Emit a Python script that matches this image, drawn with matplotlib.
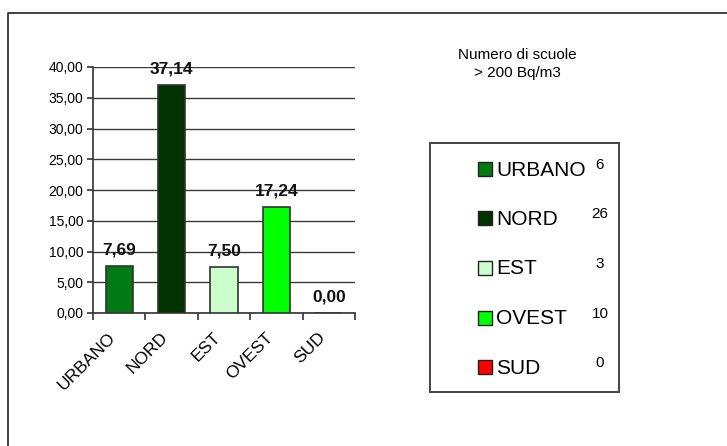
import numpy as np
import matplotlib
matplotlib.use('Agg')
import matplotlib.pyplot as plt
from matplotlib.patches import Rectangle
from matplotlib.lines import Line2D
from matplotlib.ticker import FuncFormatter

plt.rcParams['font.family'] = ['Liberation Sans', 'DejaVu Sans']

zones = ['URBANO', 'NORD', 'EST', 'OVEST', 'SUD']
percent_over = [7.69, 37.14, 7.50, 17.24, 0.00]
schools_over_200 = [6, 26, 3, 10, 0]
colors = ['#007A12', '#003300', '#CCFFCC', '#00FF00', '#FF0000']

W, H = 727, 446
fig = plt.figure(figsize=(W / 100, H / 100), dpi=100)

def fx(px):
    return px / W

def fy(py):
    return 1 - py / H

# outer frame (left and top edges)
fig.add_artist(Line2D([fx(7.5), fx(7.5), fx(727)], [fy(446), fy(12.5), fy(12.5)],
                      color='#333333', lw=1.3))

ax = fig.add_axes([fx(93), fy(313), fx(355) - fx(93), fy(67) - fy(313)])
x = np.arange(len(zones))
ax.bar(x, percent_over, width=0.52, color=colors, edgecolor='#333333', linewidth=1.2, zorder=3)

for xi, v in zip(x, percent_over):
    ax.annotate(f'{v:.2f}'.replace('.', ','), (xi, v), xytext=(0, 6), textcoords='offset points',
                ha='center', va='bottom', fontsize=12.5, fontweight='bold', color='#111111')

ax.set_xlim(-0.5, len(zones) - 0.5)
ax.set_ylim(0, 40)
ax.set_yticks(np.arange(0, 41, 5))
ax.yaxis.set_major_formatter(FuncFormatter(lambda v, p: f'{v:.2f}'.replace('.', ',')))
ax.yaxis.grid(True, color='#3a3a3a', lw=1.0, zorder=0)
for s in ['top', 'right']:
    ax.spines[s].set_visible(False)
for s in ['left', 'bottom']:
    ax.spines[s].set_color('#333333')
    ax.spines[s].set_linewidth(1.2)

# ticks sit between categories, names are written diagonally below each bar
ax.set_xticks(np.arange(-0.5, len(zones), 1.0))
ax.set_xticklabels([])
ax.tick_params(axis='x', length=5, width=1.2, color='#333333')
ax.tick_params(axis='y', length=4, width=1.2, color='#333333', labelsize=10, pad=3)
for xi, z in zip(x, zones):
    ax.annotate(z, (xi, 0), xycoords=('data', 'axes fraction'), xytext=(-8, -12),
                textcoords='offset points', rotation=45, rotation_mode='anchor',
                ha='right', va='top', fontsize=12.5, annotation_clip=False)

# title on the right
fig.text(fx(517), fy(55), 'Numero di scuole', ha='center', va='center', fontsize=11)
fig.text(fx(517), fy(73), '> 200 Bq/m3', ha='center', va='center', fontsize=11)

# legend box with school counts
fig.add_artist(Rectangle((fx(430), fy(392)), fx(619) - fx(430), fy(142.5) - fy(392),
                         fill=False, edgecolor='#444444', lw=1.4))
for i, (z, c, n) in enumerate(zip(zones, colors, schools_over_200)):
    cy = 169 + i * 49.5
    fig.add_artist(Rectangle((fx(478), fy(cy + 7)), fx(14), fy(0) - fy(14),
                             facecolor=c, edgecolor='#222222', lw=1.0))
    fig.text(fx(496), fy(cy + 1), z, ha='left', va='center', fontsize=15)
    fig.text(fx(600), fy(cy - 4), str(n), ha='center', va='center', fontsize=11)

fig.savefig('out.png', dpi=100)
